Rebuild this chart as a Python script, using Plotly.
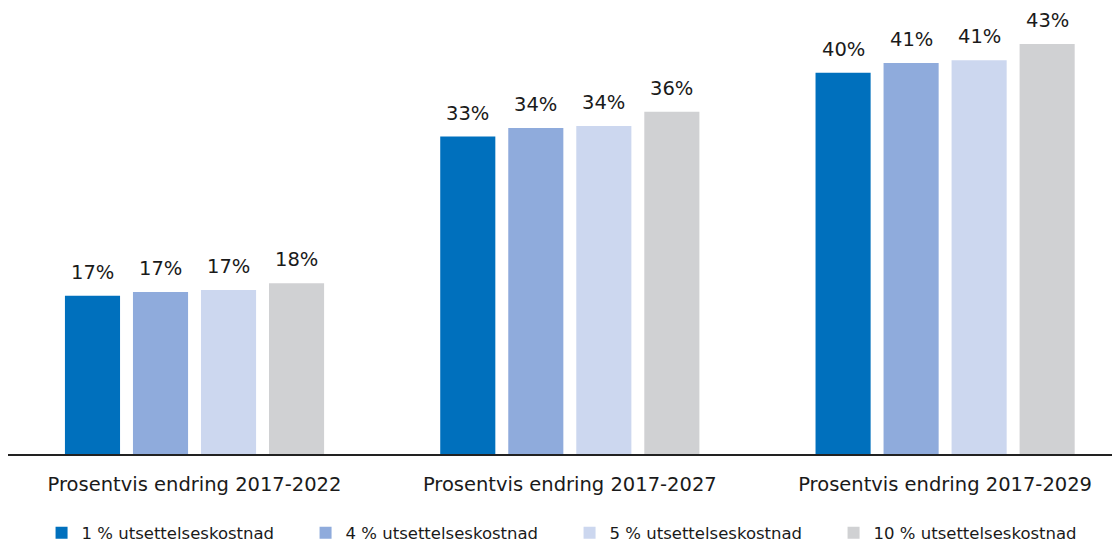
import plotly.graph_objects as go

categories = ["Prosentvis endring 2017-2022", "Prosentvis endring 2017-2027", "Prosentvis endring 2017-2029"]
series_names = ["1 % utsettelseskostnad", "4 % utsettelseskostnad", "5 % utsettelseskostnad", "10 % utsettelseskostnad"]
values_1 = [16.6, 33.3, 40.0]
values_4 = [17.0, 34.2, 41.0]
values_5 = [17.2, 34.4, 41.3]
values_10 = [17.9, 35.9, 43.0]
colors = ["#0070BD", "#8FABDC", "#CCD7EF", "#D0D1D3"]

FONT = "DejaVu Sans"
BARGAP = 0.275
GROUPGAP = 0.19
W, H = 1112, 536
all_vals = [values_1, values_4, values_5, values_10]
n = len(all_vals)

fig = go.Figure()
for name, vals, col in zip(series_names, all_vals, colors):
    fig.add_trace(go.Bar(
        x=categories, y=vals, name=name,
        marker=dict(color=col, line=dict(width=0)),
        cliponaxis=False,
    ))

# value labels above bars
slot = (1 - BARGAP) / n
annotations = []
for i, vals in enumerate(all_vals):
    off = -(1 - BARGAP) / 2 + slot * (i + 0.5)
    for j, v in enumerate(vals):
        annotations.append(dict(
            x=j + off, y=v, xref="x", yref="y", text=f"{round(v):.0f}%",
            showarrow=False, yanchor="bottom", yshift=10,
            font=dict(size=19.5, color="#1a1a1a", family=FONT),
        ))

fig.update_layout(
    width=W, height=H,
    margin=dict(l=0, r=0, t=0, b=90, autoexpand=False),
    paper_bgcolor="white", plot_bgcolor="white",
    barmode="group", bargap=BARGAP, bargroupgap=GROUPGAP,
    font=dict(family=FONT, size=17, color="#1a1a1a"),
    xaxis=dict(range=[-0.497, 2.466], showline=True, linecolor="#222", linewidth=1.5,
               ticks="", tickfont=dict(size=19.5), ticklabelstandoff=12,
               showgrid=False, automargin=False),
    yaxis=dict(range=[0, 46.78], visible=False, showgrid=False, automargin=False),
    legend=dict(orientation="h", x=0.505, xanchor="center", y=(H - 525) / H, yref="container",
                yanchor="middle", font=dict(size=16.5), traceorder="normal",
                entrywidth=219, entrywidthmode="pixels"),
    annotations=annotations,
    showlegend=True,
)
fig.write_html("out.html")
